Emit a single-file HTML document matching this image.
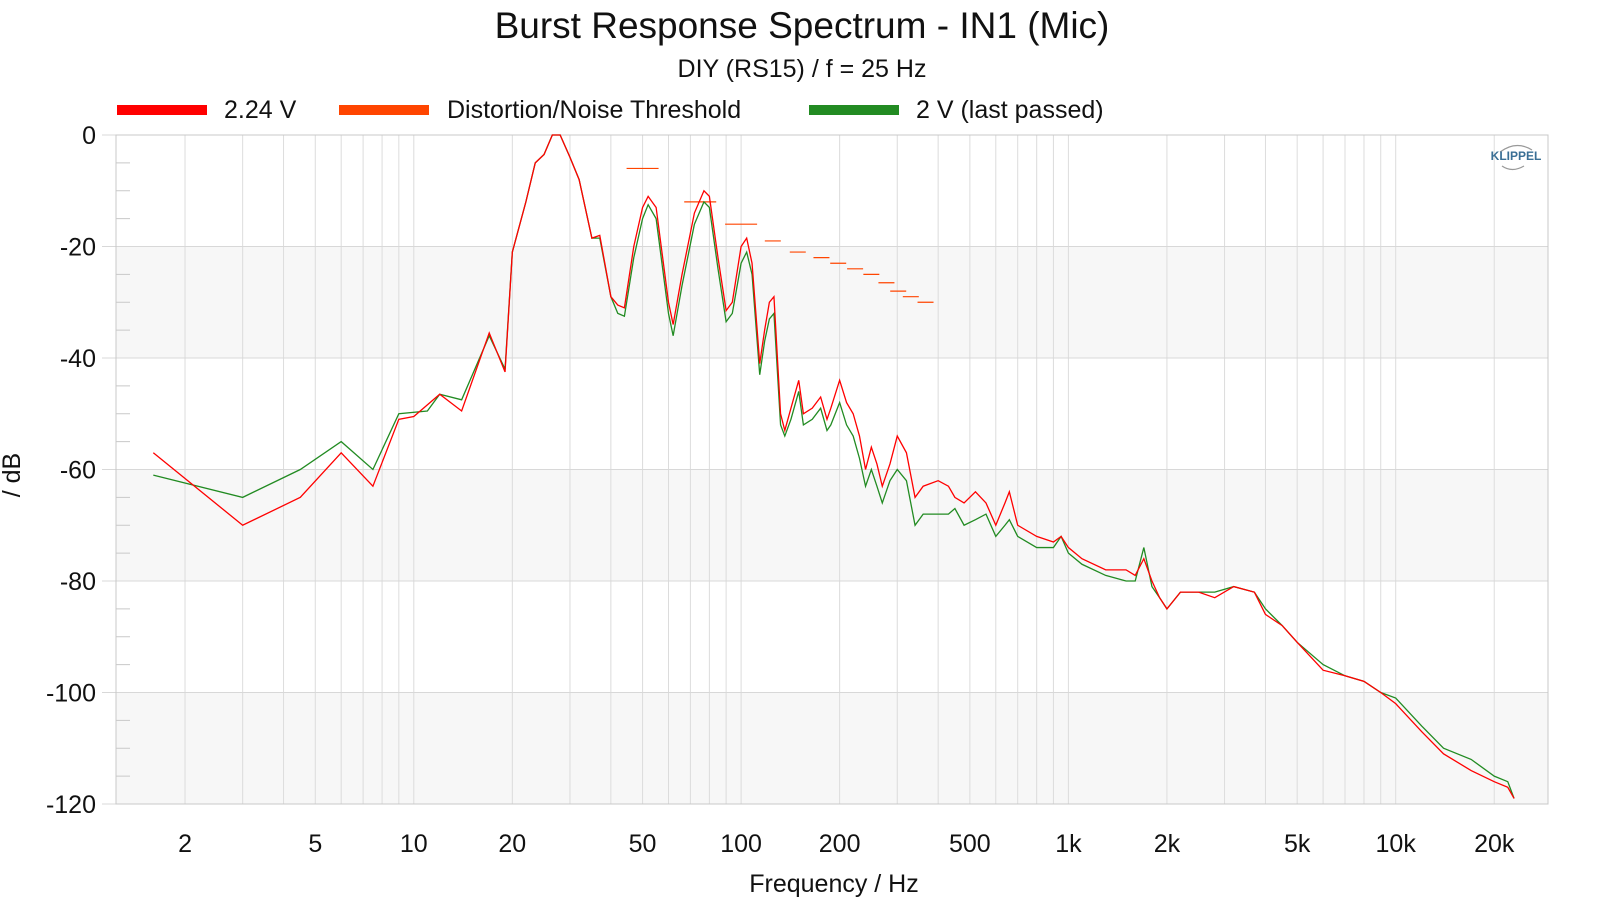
<!DOCTYPE html>
<html><head><meta charset="utf-8"><style>
body{margin:0;background:#fff;font-family:"Liberation Sans",sans-serif}
svg text{font-family:"Liberation Sans",sans-serif;fill:#111}
</style></head><body>
<svg id="c" width="1600" height="900">
<text x="802" y="38" font-size="37" text-anchor="middle">Burst Response Spectrum - IN1 (Mic)</text>
<text x="802" y="77" font-size="25" text-anchor="middle">DIY (RS15) / f = 25 Hz</text>
<g>
<g><rect x="117" y="105" width="90" height="10" fill="#f00"/><text x="224" y="118" font-size="25">2.24 V</text></g>
<g><rect x="339" y="105" width="90" height="10" fill="#ff4500"/><text x="447" y="118" font-size="25">Distortion/Noise Threshold</text></g>
<g><rect x="809" y="105" width="90" height="10" fill="#228b22"/><text x="916" y="118" font-size="25">2 V (last passed)</text></g>
</g>
<g id="plot"></g>
<text x="20" y="475" font-size="25" text-anchor="middle" transform="rotate(-90 20 475)">/ dB</text>
<text x="834" y="892" font-size="25" text-anchor="middle">Frequency / Hz</text>
<g>
<path d="M1500 152 Q1516 140 1532 150" fill="none" stroke="#999" stroke-width="1.2"/>
<path d="M1502 166 Q1512 173 1524 166" fill="none" stroke="#999" stroke-width="1.2"/>
<text x="1516" y="160" font-size="12" font-weight="bold" text-anchor="middle" style="fill:#3a6f95">KLIPPEL</text>
</g>
</svg>
<script>
const redF=[1.6,3,4.5,6,7.5,9,10,12,14,17,19,20,22,23.5,25,26.5,28,30,32,35,37,40,42,44,47,50,52,55,60,62,66,72,77,80,85,90,94,100,104,108,114,118,122,126,132,136,142,150,155,165,175,183,188,200,210,220,230,240,250,260,270,285,300,320,340,360,400,430,450,480,520,560,600,640,660,700,800,900,950,1000,1100,1300,1500,1600,1700,1800,1900,2000,2200,2500,2800,3200,3700,4000,4500,5000,6000,7000,8000,9000,10000,12000,14000,17000,20000,22000,23000];
const redV=[-57,-70,-65,-57,-63,-51,-50.5,-46.5,-49.5,-35.5,-42.5,-21,-12,-5,-3.5,0,0,-4,-8,-18.5,-18,-29,-30.5,-31,-20,-13,-11,-13,-30,-34,-25,-14,-10,-11,-22,-31.5,-30,-20,-18.5,-23,-41,-35,-30,-29,-50,-53,-49,-44,-50,-49,-47,-51,-49,-44,-48,-50,-54,-60,-56,-59,-63,-59,-54,-57,-65,-63,-62,-63,-65,-66,-64,-66,-70,-66,-64,-70,-72,-73,-72,-74,-76,-78,-78,-79,-76,-80,-83,-85,-82,-82,-83,-81,-82,-86,-88,-91,-96,-97,-98,-100,-102,-107,-111,-114,-116,-117,-119];
const greenF=[1.6,3,4.5,6,7.5,9,11,12,14,17,19,20,22,23.5,25,26.5,28,30,32,35,37,40,42,44,47,50,52,55,60,62,66,72,77,80,85,90,94,100,104,108,114,118,122,126,132,136,142,150,155,165,175,183,188,200,210,220,230,240,250,260,270,285,300,320,340,360,400,430,450,480,520,560,600,640,660,700,800,900,950,1000,1100,1300,1500,1600,1700,1800,1900,2000,2200,2500,2800,3200,3700,4000,4500,5000,6000,7000,8000,9000,10000,12000,14000,17000,20000,22000,23000];
const greenV=[-61,-65,-60,-55,-60,-50,-49.5,-46.5,-47.5,-36,-42,-21,-12,-5,-3.5,0,0,-4,-8,-18.5,-18.5,-29,-32,-32.5,-22,-15,-12.5,-15,-32,-36,-27,-16,-12,-13,-24,-33.5,-32,-23,-21,-25,-43,-37,-33,-32,-52,-54,-51,-46,-52,-51,-49,-53,-52,-48,-52,-54,-58,-63,-60,-63,-66,-62,-60,-62,-70,-68,-68,-68,-67,-70,-69,-68,-72,-70,-69,-72,-74,-74,-72,-75,-77,-79,-80,-80,-74,-81,-83,-85,-82,-82,-82,-81,-82,-85,-88,-91,-95,-97,-98,-100,-101,-106,-110,-112,-115,-116,-119];
const thrF=[50,75,100,125,149,176,198,223,250,278,302,330,366];
const thrV=[-6,-12,-16,-19,-21,-22,-23,-24,-25,-26.5,-28,-29,-30];
const xTicks=[2,5,10,20,50,100,200,500,1000,2000,5000,10000,20000];
const xLabels=["2","5","10","20","50","100","200","500","1k","2k","5k","10k","20k"];
const yTicks=[0,-20,-40,-60,-80,-100,-120];
const L=116,R=1548,T=135,B=804;
const X=f=>86.5+327.3*Math.log10(f);
const Y=v=>T+(0-v)*(B-T)/120;
const NS="http://www.w3.org/2000/svg";
const g=document.getElementById('plot');
function mk(t,a,p){const e=document.createElementNS(NS,t);for(const k in a)e.setAttribute(k,a[k]);(p||g).appendChild(e);return e;}
for(let i=0;i<3;i++){const b=mk('rect',{x:L,y:Y(-20-40*i),width:R-L,height:Y(-40)-Y(-20),fill:'#f7f7f7'});

}
for(let d=1;d<=10000;d*=10)for(let m=1;m<10;m++){const f=d*m;const x=X(f);if(x<L||x>R)continue;
const l=mk('line',{x1:x,x2:x,y1:T,y2:B,stroke:'#dcdcdc','stroke-width':1});

}
for(let v=0;v>=-120;v-=5){const y=Y(v);const major=v%20===0;
const l=mk('line',{x1:major?L-14:L,x2:major?R:L+14,y1:y,y2:y,stroke:major?'#d8d8d8':'#c8c8c8','stroke-width':1});

}
mk('rect',{x:L,y:T,width:R-L,height:B-T,fill:'none',stroke:'#c8c8c8'});
yTicks.forEach(v=>{const t=mk('text',{x:96,y:Y(v)+9,'font-size':25,'text-anchor':'end'});t.textContent=v;

});
xTicks.forEach((f,i)=>{const t=mk('text',{x:X(f),y:852,'font-size':25,'text-anchor':'middle'});t.textContent=xLabels[i];

});
thrF.forEach((f,i)=>{const x=X(f);const h=i<3?16:8;const l=mk('line',{x1:x-h,x2:x+h,y1:Y(thrV[i]),y2:Y(thrV[i]),stroke:'#ff4500','stroke-width':1.2});

});
function line(F,V,c,n){const p=mk('polyline',{points:F.map((f,i)=>X(f)+','+Y(V[i])).join(' '),fill:'none',stroke:c,'stroke-width':1.3});

}
line(greenF,greenV,'#228b22','series-2v');
line(redF,redV,'#f00','series-2-24v');
</script>
</body></html>
